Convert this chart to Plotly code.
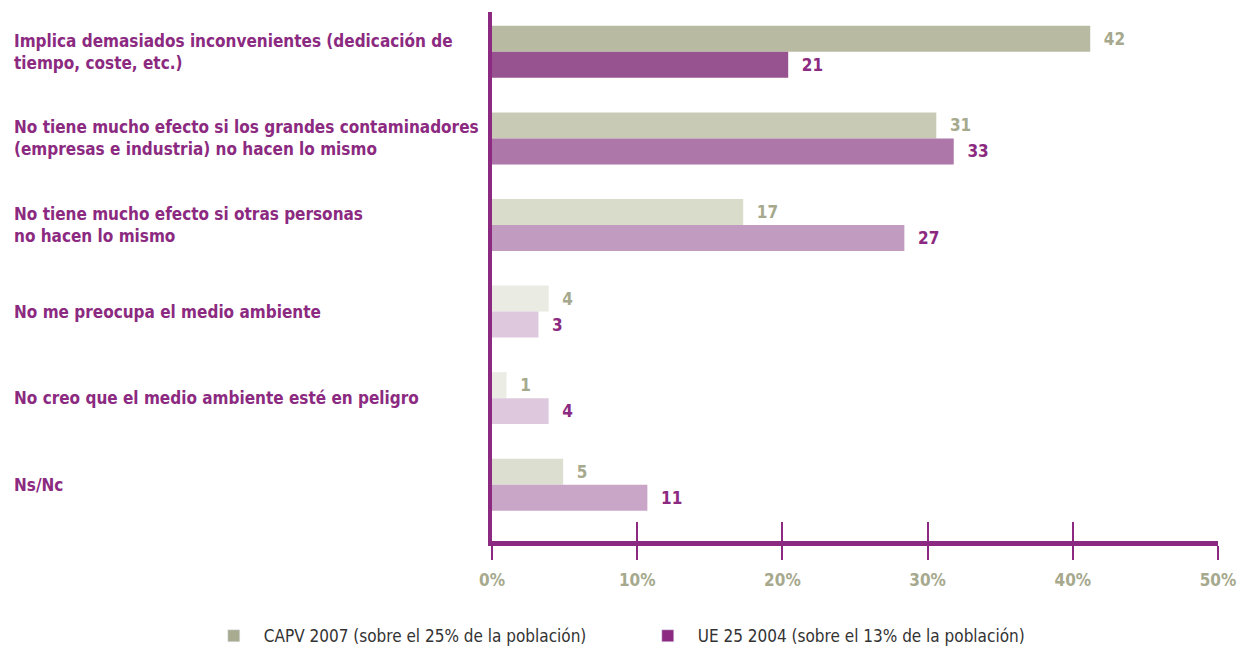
import plotly.graph_objects as go

categories = [
    "Implica demasiados inconvenientes (dedicación de<br>tiempo, coste, etc.)",
    "No tiene mucho efecto si los grandes contaminadores<br>(empresas e industria) no hacen lo mismo",
    "No tiene mucho efecto si otras personas<br>no hacen lo mismo",
    "No me preocupa el medio ambiente",
    "No creo que el medio ambiente esté en peligro",
    "Ns/Nc",
]
# bar lengths as drawn, and the numbers printed next to them
capv_values = [41.2, 30.6, 17.3, 3.9, 1.0, 4.9]
capv_labels = [42, 31, 17, 4, 1, 5]
ue_values = [20.4, 31.8, 28.4, 3.2, 3.9, 10.7]
ue_labels = [21, 33, 27, 3, 4, 11]

capv_colors = ["#B8BBA2", "#C8CAB5", "#D9DCCB", "#EAEBE3", "#EBECE4", "#DCDFD0"]
ue_colors = ["#97538F", "#AD77A9", "#C29BC0", "#DEC8DE", "#DEC8DE", "#C9A6C8"]

x_ticks = [0, 10, 20, 30, 40, 50]
x_ticktext = ["0%", "10%", "20%", "30%", "40%", "50%"]

PURPLE = "#8B2A80"
OLIVE = "#A6A98D"
FONT = "DejaVu Sans Condensed"

fig = go.Figure()

fig.add_trace(go.Bar(
    y=categories, x=capv_values, orientation="h",
    marker=dict(color=capv_colors, line=dict(width=0)),
    width=0.3, offset=-0.3,
    text=capv_labels, texttemplate="  %{text}", textposition="outside",
    textfont=dict(family=FONT, size=17, color=OLIVE, weight="bold"),
    cliponaxis=False, showlegend=False, hoverinfo="skip",
))
fig.add_trace(go.Bar(
    y=categories, x=ue_values, orientation="h",
    marker=dict(color=ue_colors, line=dict(width=0)),
    width=0.3, offset=0,
    text=ue_labels, texttemplate="  %{text}", textposition="outside",
    textfont=dict(family=FONT, size=17, color=PURPLE, weight="bold"),
    cliponaxis=False, showlegend=False, hoverinfo="skip",
))

# legend-only entries (on the overlay axis so its upward ticks get drawn)
fig.add_trace(go.Bar(y=[categories[0]], x=[None], orientation="h", xaxis="x2",
                     marker_color="#A8AB8F", name="CAPV 2007 (sobre el 25% de la población)"))
fig.add_trace(go.Bar(y=[categories[0]], x=[None], orientation="h", xaxis="x2",
                     marker_color=PURPLE, name="UE 25 2004 (sobre el 13% de la población)"))

for cat in categories:
    fig.add_annotation(
        x=-0.661, xref="paper", y=cat, yref="y",
        text=cat, showarrow=False, xanchor="left", align="left",
        font=dict(family=FONT, size=17, color=PURPLE, weight="bold"),
    )

fig.update_layout(
    width=1237, height=639,
    margin=dict(l=484, r=27, t=4, b=106, autoexpand=False),
    paper_bgcolor="white", plot_bgcolor="white",
    barmode="overlay",
    font=dict(family=FONT, color="#333333"),
    xaxis=dict(
        range=[0, 50], tickvals=x_ticks, ticktext=x_ticktext,
        showgrid=False, zeroline=False,
        showline=True, linecolor=PURPLE, linewidth=5,
        ticks="outside", ticklen=14, tickwidth=1.5, tickcolor=PURPLE,
        ticklabelstandoff=6,
        tickfont=dict(family=FONT, size=17, color=OLIVE, weight="bold"),
    ),
    xaxis2=dict(
        overlaying="x", anchor="y", side="bottom",
        range=[0, 50], tickvals=x_ticks, showticklabels=False,
        showgrid=False, zeroline=False, showline=False,
        ticks="inside", ticklen=19, tickwidth=1.5, tickcolor=PURPLE,
    ),
    yaxis=dict(
        range=[5.65, -0.46], showticklabels=False, showgrid=False,
        zeroline=False, showline=True, linecolor=PURPLE, linewidth=4,
        ticks="",
    ),
    legend=dict(
        orientation="h", x=-0.397, xanchor="left", y=-0.18, yanchor="middle",
        entrywidth=369, entrywidthmode="pixels", itemwidth=50,
        font=dict(family=FONT, size=17, color="#333333"),
    ),
)

fig.write_html("out.html")
